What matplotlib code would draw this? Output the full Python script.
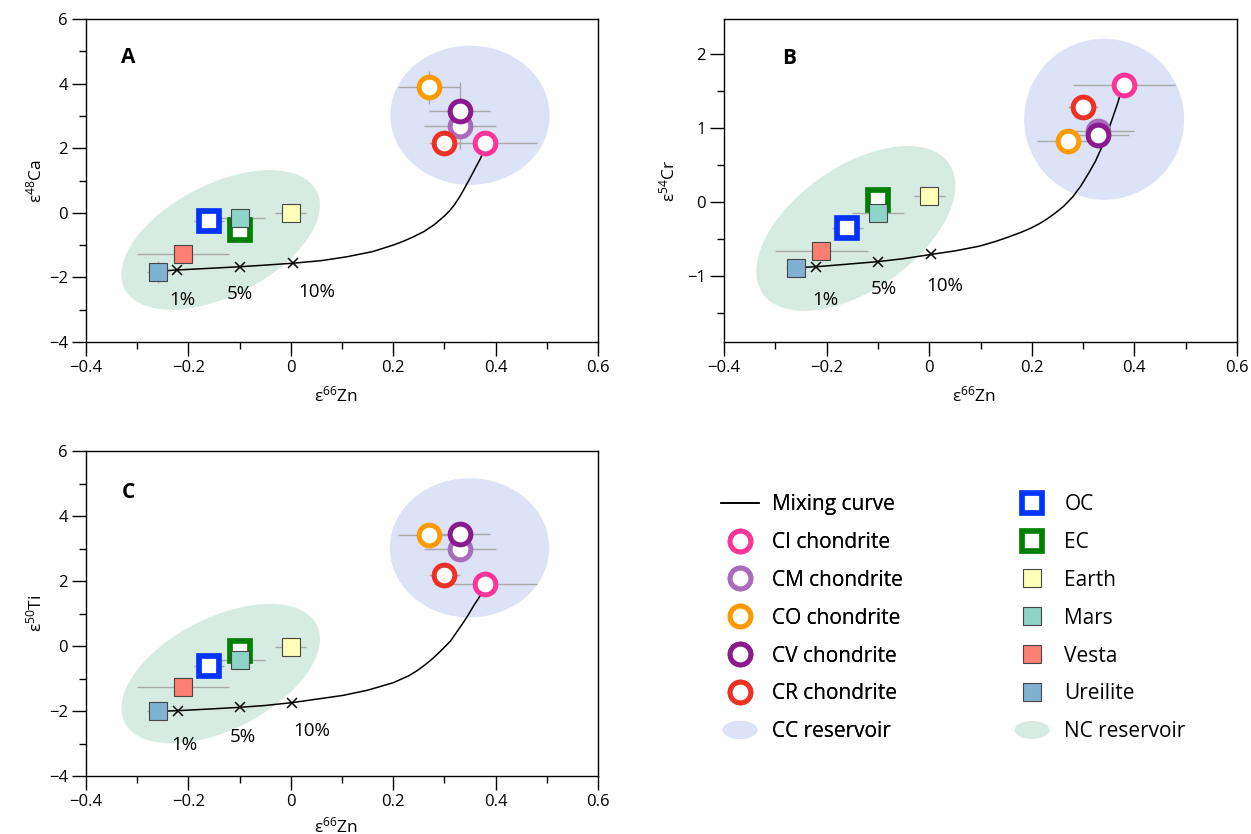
import matplotlib
matplotlib.use('Agg')
import matplotlib.pyplot as plt
from matplotlib.patches import Ellipse
from matplotlib.lines import Line2D
from matplotlib.legend_handler import HandlerPatch
import matplotlib.transforms as mtransforms
from matplotlib.ticker import MultipleLocator, FuncFormatter

plt.rcParams['font.family'] = ['Open Sans', 'DejaVu Sans']
plt.rcParams['mathtext.fontset'] = 'custom'
plt.rcParams['mathtext.rm'] = 'Open Sans'
plt.rcParams['mathtext.it'] = 'Open Sans:italic'
plt.rcParams['mathtext.bf'] = 'Open Sans:bold'

# ---------------- data ----------------
samples = ['CI chondrite', 'CM chondrite', 'CO chondrite', 'CV chondrite', 'CR chondrite',
           'OC', 'EC', 'Earth', 'Mars', 'Vesta', 'Ureilite']
colors = ['#ff3399', '#a96cb9', '#ff9900', '#8b1a8f', '#ee3124',
          '#0033ff', '#007f00', '#ffffb8', '#8dd3c7', '#fb8072', '#80b1d3']
kinds = ['ring'] * 5 + ['osq'] * 2 + ['fsq'] * 4

zn = [0.38, 0.33, 0.27, 0.33, 0.30, -0.16, -0.10, 0.00, -0.10, -0.21, -0.26]
zn_err = [0.10, 0.07, 0.06, 0.06, 0.03, 0.03, 0.02, 0.03, 0.05, 0.09, 0.02]

ca = [2.15, 2.68, 3.88, 3.15, 2.15, -0.25, -0.52, 0.00, -0.17, -1.29, -1.83]
ca_err = [0.0, 0.7, 0.5, 0.9, 0.0, 0.0, 0.0, 0.0, 0.0, 0.3, 0.35]

cr = [1.59, 0.96, 0.83, 0.91, 1.29, -0.36, 0.03, 0.08, -0.15, -0.66, -0.89]
cr_err = [0.0] * 11

ti = [1.90, 2.99, 3.43, 3.45, 2.20, -0.63, -0.15, -0.03, -0.42, -1.25, -2.01]
ti_err = [0.0] * 11

# mixing curves
mixA_zn = [-0.26, -0.2216, -0.16, -0.0992, -0.05, 0.005, 0.06, 0.11, 0.16, 0.20, 0.22, 0.24,
           0.26, 0.28, 0.30, 0.31, 0.32, 0.33, 0.34, 0.35, 0.36, 0.37, 0.375, 0.38]
mixA_ca = [-1.81, -1.77, -1.72, -1.67, -1.62, -1.56, -1.48, -1.36, -1.20, -1.00, -0.88, -0.74,
           -0.58, -0.37, -0.10, 0.06, 0.26, 0.50, 0.78, 1.07, 1.37, 1.67, 1.84, 2.05]
mixB_zn = [-0.26, -0.221, -0.16, -0.100, -0.05, 0.004, 0.05, 0.098, 0.13, 0.157, 0.18, 0.20,
           0.215, 0.23, 0.245, 0.262, 0.28, 0.296, 0.31, 0.324, 0.335, 0.344, 0.353, 0.361,
           0.367, 0.372, 0.38]
mixB_cr = [-0.89, -0.88, -0.845, -0.81, -0.77, -0.712, -0.665, -0.60, -0.535, -0.47, -0.41, -0.35,
           -0.295, -0.23, -0.155, -0.06, 0.07, 0.22, 0.38, 0.55, 0.72, 0.88, 1.05, 1.21,
           1.33, 1.45, 1.59]
mixC_zn = [-0.26, -0.221, -0.16, -0.0998, -0.05, 0.003, 0.102, 0.15, 0.200, 0.23, 0.2465, 0.263,
           0.279, 0.295, 0.312, 0.325, 0.339, 0.349, 0.358, 0.366, 0.373, 0.38]
mixC_ti = [-2.01, -1.99, -1.94, -1.887, -1.83, -1.742, -1.52, -1.36, -1.13, -0.92, -0.76, -0.57,
           -0.36, -0.12, 0.155, 0.45, 0.77, 1.02, 1.26, 1.45, 1.62, 1.85]

mix_labels = ['1%', '5%', '10%']
marksA_zn = [-0.2216, -0.0992, 0.005]
marksA_ca = [-1.77, -1.67, -1.56]
marksB_zn = [-0.221, -0.100, 0.004]
marksB_cr = [-0.88, -0.81, -0.712]
marksC_zn = [-0.221, -0.0998, 0.003]
marksC_ti = [-1.99, -1.887, -1.742]

labA_pos = [(-0.212, -2.71), (-0.099, -2.52), (0.051, -2.46)]
labB_pos = [(-0.202, -1.33), (-0.089, -1.18), (0.030, -1.14)]
labC_pos = [(-0.207, -3.04), (-0.094, -2.79), (0.041, -2.63)]

CC_COLOR = '#dce3f6'
NC_COLOR = '#d6ece2'
ERR_COLOR = '#a8a8a8'

# ---------------- figure ----------------
W, H = 1251, 834
fig = plt.figure(figsize=(W / 100, H / 100), dpi=100)


def add_axes_px(l, r, t, b):
    return fig.add_axes([l / W, 1 - b / H, (r - l) / W, (b - t) / H]), (r - l), (b - t)


def fmt(v, pos):
    if abs(v) < 1e-9:
        return '0'
    s = ('%g' % round(v, 3))
    return s.replace('-', '\u2212')


def pix_ellipse(ax, wpx, hpx, cx, cy, a, b, ang, color):
    x0, x1 = ax.get_xlim()
    y0, y1 = ax.get_ylim()
    sx = wpx / (x1 - x0)
    sy = hpx / (y1 - y0)
    tr = mtransforms.Affine2D().scale(1 / sx, 1 / sy) + ax.transData
    e = Ellipse((cx * sx, cy * sy), 2 * a, 2 * b, angle=ang, transform=tr,
                facecolor=color, edgecolor='none', zorder=0.5)
    ax.add_patch(e)


def mk(i):
    c = colors[i]
    if kinds[i] == 'ring':
        return dict(marker='o', ms=14.9, mew=3.6, mfc='white', mec=c)
    if kinds[i] == 'osq':
        return dict(marker='s', ms=15.1, mew=4.1, mfc='white', mec=c)
    return dict(marker='s', ms=13.3, mew=0.8, mfc=c, mec='#454545')


def panel(box, ys, yerr, ylim, ymaj, ymin, ylabel, ylabx, letter, letpos,
          mzn, mval, kzn, kval, labpos, cc, nc, xlabely):
    ax, wpx, hpx = add_axes_px(*box)
    ax.set_xlim(-0.4, 0.6)
    ax.set_ylim(*ylim)
    ax.xaxis.set_major_locator(MultipleLocator(0.2))
    ax.xaxis.set_minor_locator(MultipleLocator(0.1))
    ax.yaxis.set_major_locator(MultipleLocator(ymaj))
    ax.yaxis.set_minor_locator(MultipleLocator(ymin))
    ax.xaxis.set_major_formatter(FuncFormatter(fmt))
    ax.yaxis.set_major_formatter(FuncFormatter(fmt))
    ax.tick_params(which='major', direction='out', length=10, width=1.0, labelsize=12, pad=3)
    ax.tick_params(which='minor', direction='out', length=5, width=1.0)
    for s in ax.spines.values():
        s.set_linewidth(1.0)

    pix_ellipse(ax, wpx, hpx, *cc, CC_COLOR)
    pix_ellipse(ax, wpx, hpx, *nc, NC_COLOR)

    ax.errorbar(zn, ys, xerr=zn_err, yerr=yerr, fmt='none', ecolor=ERR_COLOR,
                elinewidth=1.0, capsize=0, zorder=1.5)
    ax.plot(mzn, mval, color='black', lw=1.1, zorder=2, solid_joinstyle='round')
    ax.plot(kzn, kval, ls='none', marker='x', ms=7, mew=1.1, color='black', zorder=2.5)
    for (tx, ty), t in zip(labpos, mix_labels):
        ax.text(tx, ty, t, ha='center', va='center', fontsize=13.5, zorder=4)

    for i in range(len(samples)):
        ax.plot([zn[i]], [ys[i]], ls='none', zorder=3 + 0.01 * i, **mk(i))

    ax.text(letpos[0], letpos[1], letter, transform=ax.transAxes, fontsize=15,
            fontweight='bold', ha='center', va='center')
    ax.set_xlabel('\u03b5$^{66}$Zn', fontsize=12.5)
    ax.set_ylabel(ylabel, fontsize=12.5)
    ax.xaxis.set_label_coords(0.488, xlabely)
    ax.xaxis.label.set_va('center')
    ax.yaxis.set_label_coords(ylabx, 0.5)
    ax.yaxis.label.set_va('center')
    return ax


axA = panel((86, 598, 19, 342), ca, ca_err, (-4, 6), 2, 1, '\u03b5$^{48}$Ca', -0.0996,
            'A', (0.083, 0.881), mixA_zn, mixA_ca, marksA_zn, marksA_ca, labA_pos,
            (0.35, 3.02, 79.7, 69.6, 0), (-0.137, -0.84, 107.8, 55.8, 27), -0.164)
axB = panel((724, 1237, 19, 342), cr, cr_err, (-1.9, 2.48), 1, 0.5, '\u03b5$^{54}$Cr', -0.109,
            'B', (0.127, 0.877), mixB_zn, mixB_cr, marksB_zn, marksB_cr, labB_pos,
            (0.341, 1.12, 80.0, 80.5, 0), (-0.143, -0.36, 113.6, 61.7, 35), -0.164)
axC = panel((86, 598, 451, 776), ti, ti_err, (-4, 6), 2, 1, '\u03b5$^{50}$Ti', -0.0996,
            'C', (0.083, 0.871), mixC_zn, mixC_ti, marksC_zn, marksC_ti, labC_pos,
            (0.349, 3.02, 79.7, 69.6, 0), (-0.137, -0.85, 107.8, 55.8, 27), -0.154)

# ---------------- legend ----------------


def make_ellipse(legend, orig_handle, xdescent, ydescent, width, height, fontsize):
    return Ellipse(xy=(width / 2 - xdescent, height / 2 - ydescent), width=25.2, height=13.0)


def mh(i):
    return Line2D([], [], ls='none', **mk(i))


h1 = [Line2D([], [], color='black', lw=1.2)] + [mh(i) for i in range(5)] + \
     [Ellipse((0, 0), 1, 1, facecolor=CC_COLOR, edgecolor='none')]
l1 = ['Mixing curve'] + samples[:5] + ['CC reservoir']
h2 = [mh(i) for i in range(5, 11)] + [Ellipse((0, 0), 1, 1, facecolor=NC_COLOR, edgecolor='none')]
l2 = samples[5:] + ['NC reservoir']

common = dict(loc='upper left', frameon=False, borderpad=0, borderaxespad=0,
              handlelength=1.824, handletextpad=0.64, labelspacing=0.81,
              fontsize=15, handler_map={Ellipse: HandlerPatch(patch_func=make_ellipse)})
leg1 = fig.legend(h1, l1, bbox_to_anchor=(721 / W, 1 - 494 / H), **common)
fig.add_artist(leg1)
leg2 = fig.legend(h2, l2, bbox_to_anchor=(1013 / W, 1 - 494 / H), **common)

fig.savefig('out.png', dpi=100)
